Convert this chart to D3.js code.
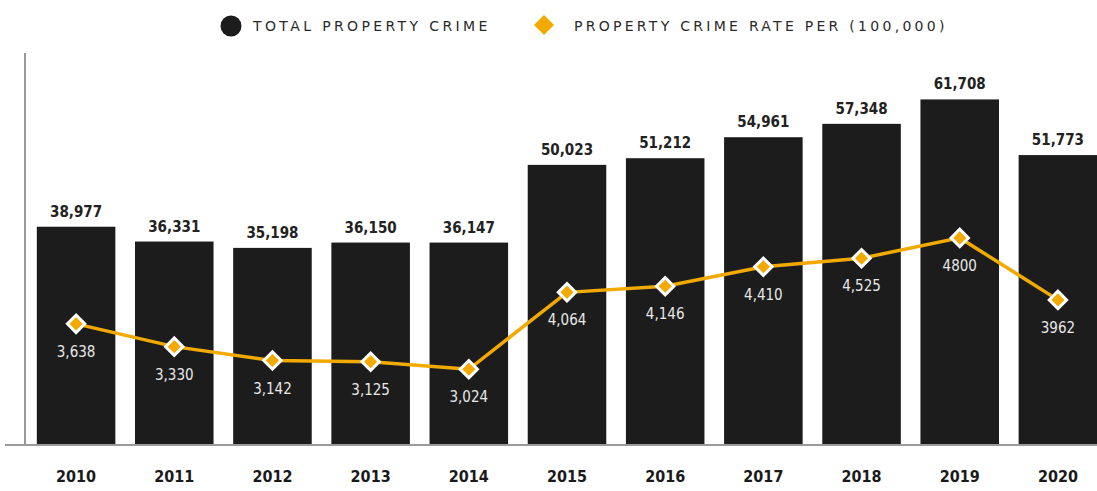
<!DOCTYPE html>
<html>
<head>
<meta charset="utf-8">
<script src="https://cdn.jsdelivr.net/npm/d3@7"></script>
<style>
  html, body { margin: 0; padding: 0; background: #fff; }
  svg { display: block; }
</style>
</head>
<body>
<svg id="chart" width="1097" height="491"></svg>
<script>
// Annual figures
const years = ["2010","2011","2012","2013","2014","2015","2016","2017","2018","2019","2020"];
const totalCrime = [38977, 36331, 35198, 36150, 36147, 50023, 51212, 54961, 57348, 61708, 51773];
const crimeRate = [3638, 3330, 3142, 3125, 3024, 4064, 4146, 4410, 4525, 4800, 3962];
const totalLabels = ["38,977","36,331","35,198","36,150","36,147","50,023","51,212","54,961","57,348","61,708","51,773"];
const rateLabels = ["3,638","3,330","3,142","3,125","3,024","4,064","4,146","4,410","4,525","4800","3962"];
const legendItems = ["TOTAL PROPERTY CRIME", "PROPERTY CRIME RATE PER (100,000)"];

const W = 1097, H = 491;
const plot = { left: 27, right: 1107, top: 53, bottom: 445 };
const barColor = "#1c1c1c";
const lineColor = "#f2a900";
const font = "'DejaVu Sans Condensed', 'Liberation Sans Narrow', sans-serif";
const legendFont = "'DejaVu Sans', sans-serif";

const svg = d3.select("#chart");

const x = d3.scaleBand()
  .domain(years)
  .range([plot.left, plot.right])
  .paddingInner(0.2)
  .paddingOuter(0.1);

const yBar = d3.scaleLinear().domain([0, 70000]).range([plot.bottom, plot.top]);
const yRate = d3.scaleLinear().domain([2000, 7300]).range([plot.bottom, plot.top]);

// Left axis line
svg.append("line")
  .attr("x1", 25).attr("x2", 25)
  .attr("y1", plot.top).attr("y2", plot.bottom)
  .attr("stroke", "#777").attr("stroke-width", 1.5);

// Bars
svg.append("g").selectAll("rect")
  .data(years)
  .join("rect")
  .attr("x", d => x(d))
  .attr("width", x.bandwidth())
  .attr("y", (d, i) => yBar(totalCrime[i]))
  .attr("height", (d, i) => plot.bottom - yBar(totalCrime[i]))
  .attr("fill", barColor);

// Baseline
svg.append("line")
  .attr("x1", 5).attr("x2", W)
  .attr("y1", plot.bottom).attr("y2", plot.bottom)
  .attr("stroke", "#9a9a9a").attr("stroke-width", 2);

// Bar value labels
svg.append("g").selectAll("text")
  .data(years)
  .join("text")
  .attr("x", d => x(d) + x.bandwidth() / 2)
  .attr("y", (d, i) => yBar(totalCrime[i]) - 10)
  .attr("text-anchor", "middle")
  .attr("font-family", font)
  .attr("font-weight", "bold")
  .attr("font-size", 15)
  .attr("fill", "#222")
  .text((d, i) => totalLabels[i]);

// Year axis
const xAxis = svg.append("g")
  .attr("transform", `translate(0,${plot.bottom})`)
  .call(d3.axisBottom(x).tickSize(0).tickPadding(26));
xAxis.select(".domain").remove();
xAxis.selectAll("text")
  .attr("font-family", font)
  .attr("font-weight", "bold")
  .attr("font-size", 16)
  .attr("fill", "#1a1a1a");

// Rate line
const line = d3.line()
  .x((d, i) => x(years[i]) + x.bandwidth() / 2)
  .y(d => yRate(d));

svg.append("path")
  .datum(crimeRate)
  .attr("d", line)
  .attr("fill", "none")
  .attr("stroke", lineColor)
  .attr("stroke-width", 3.5);

const diamond = d3.symbol().type(d3.symbolSquare).size(150);

svg.append("g").selectAll("path")
  .data(crimeRate)
  .join("path")
  .attr("d", diamond)
  .attr("transform", (d, i) => `translate(${x(years[i]) + x.bandwidth() / 2},${yRate(d)}) rotate(45)`)
  .attr("fill", lineColor)
  .attr("stroke", "#fff")
  .attr("stroke-width", 3);

// Rate value labels
svg.append("g").selectAll("text")
  .data(crimeRate)
  .join("text")
  .attr("x", (d, i) => x(years[i]) + x.bandwidth() / 2)
  .attr("y", d => yRate(d) + 33)
  .attr("text-anchor", "middle")
  .attr("font-family", font)
  .attr("font-size", 15)
  .attr("fill", "#e8e8e8")
  .text((d, i) => rateLabels[i]);

// Legend
const legend = svg.append("g");
legend.append("circle")
  .attr("cx", 231).attr("cy", 26).attr("r", 10.5)
  .attr("fill", barColor);
legend.append("text")
  .attr("x", 253).attr("y", 31)
  .attr("font-family", legendFont)
  .attr("font-size", 14)
  .attr("letter-spacing", 2.6)
  .attr("textLength", 237)
  .attr("fill", "#2a2a2a")
  .text(legendItems[0]);
legend.append("path")
  .attr("d", d3.symbol().type(d3.symbolSquare).size(200))
  .attr("transform", "translate(544,25) rotate(45)")
  .attr("fill", lineColor);
legend.append("text")
  .attr("x", 574).attr("y", 31)
  .attr("font-family", legendFont)
  .attr("font-size", 14)
  .attr("letter-spacing", 2.6)
  .attr("textLength", 373)
  .attr("fill", "#2a2a2a")
  .text(legendItems[1]);
</script>
</body>
</html>
